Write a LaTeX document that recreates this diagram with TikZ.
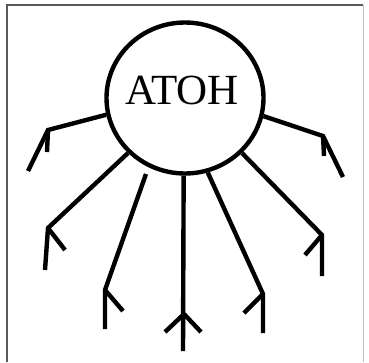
\documentclass[tikz,border=0pt]{standalone}
\usepackage{fontspec}
\setmainfont{Liberation Serif}
\usetikzlibrary{shapes.geometric}
\begin{document}
\begin{tikzpicture}[x=1pt,y=-1pt,
  stroke/.style={line width=4.4pt,line join=miter,black},
  barb/.style={line width=4.4pt,black},
  frameline/.style={line width=1.4pt,black!65},
  faintline/.style={line width=1pt,black!25}]
\useasboundingbox (0,0) rectangle (369,362);
\draw[frameline] (7,362) -- (7,5) -- (363,5);
\draw[faintline] (363,5) -- (363,362);
\node[ellipse,draw,line width=4.4pt,minimum width=157pt,minimum height=151pt,inner sep=0pt] (atom) at (185,98) {};
\node (label) at (182,90) {\fontsize{43}{43}\selectfont ATOH};
% bends and ends
\coordinate (a1) at (48,130); \coordinate (a2) at (28,171); \coordinate (ab) at (47,152);
\coordinate (b1) at (48,228); \coordinate (b2) at (45,270); \coordinate (bb) at (65,250);
\coordinate (c0) at (146,174); \coordinate (c1) at (105,290); \coordinate (c2) at (105,329); \coordinate (cb) at (123,311);
\coordinate (d2) at (183,351); \coordinate (dm) at (184,314); \coordinate (dl) at (165,332); \coordinate (dr) at (201,332);
\coordinate (e1) at (263,294); \coordinate (e2) at (263,333); \coordinate (eb) at (244,313);
\coordinate (f1) at (322,235); \coordinate (f2) at (322,276); \coordinate (fb) at (305,255);
\coordinate (g1) at (323,136); \coordinate (g2) at (343,177); \coordinate (gb) at (324,156);
% lines
\draw[stroke] (atom.192) -- (a1) -- (a2);
\draw[barb] (a1) -- (ab);
\draw[stroke] (atom.224) -- (b1) -- (b2);
\draw[barb] (b1) -- (bb);
\draw[stroke] (c0) -- (c1) -- (c2);
\draw[barb] (c1) -- (cb);
\draw[stroke] (atom.269) -- (d2);
\draw[barb] (dm) -- (dl);
\draw[barb] (dm) -- (dr);
\draw[stroke] (atom.287) -- (e1) -- (e2);
\draw[barb] (e1) -- (eb);
\draw[stroke] (atom.316) -- (f1) -- (f2);
\draw[barb] (f1) -- (fb);
\draw[stroke] (atom.347) -- (g1) -- (g2);
\draw[barb] (g1) -- (gb);
\end{tikzpicture}
\end{document}
